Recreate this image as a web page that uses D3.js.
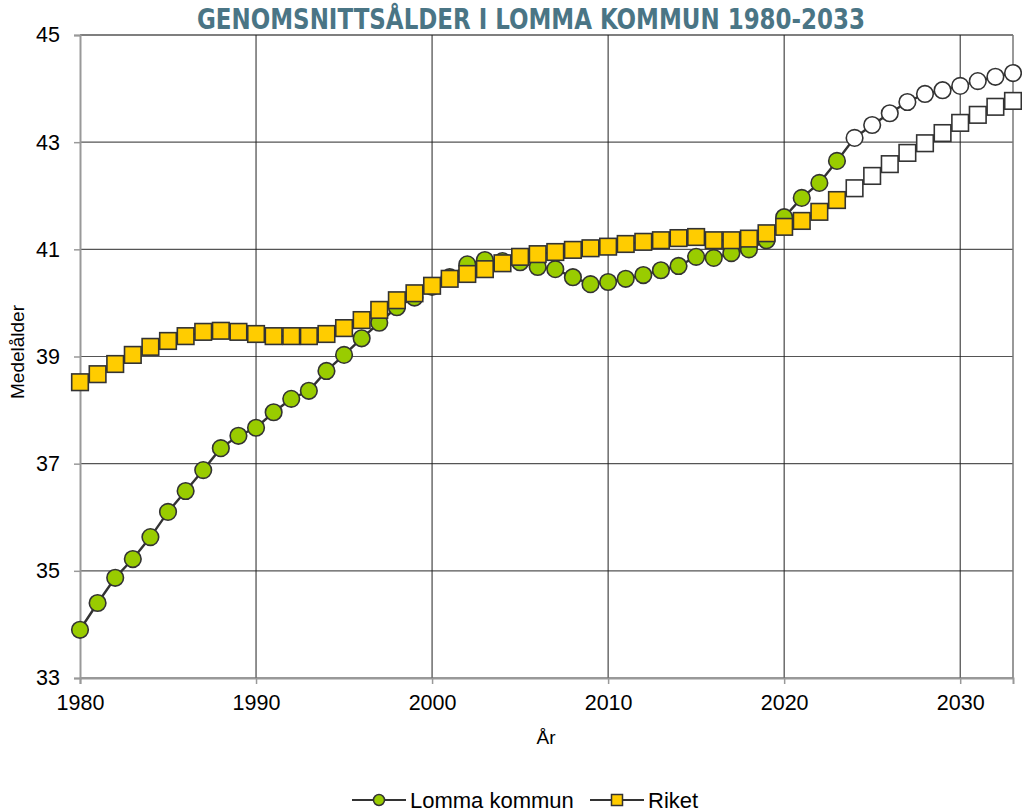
<!DOCTYPE html>
<html>
<head>
<meta charset="utf-8">
<script src="https://cdn.jsdelivr.net/npm/d3@7"></script>
<style>
  body { margin: 0; background: #fff; }
  svg { display: block; font-family: "Liberation Sans", Arial, sans-serif; }
</style>
</head>
<body>
<svg id="chart" width="1022" height="811"></svg>
<script>
// data
const years = d3.range(1980, 2034);
const forecastFrom = 2024; // prognos from this year on (open markers)
const lomma = [
  33.90, 34.40, 34.87, 35.22, 35.63, 36.10, 36.49, 36.88, 37.29, 37.52,
  37.67, 37.96, 38.21, 38.36, 38.73, 39.03, 39.34, 39.63, 39.92, 40.10,
  40.30, 40.48, 40.72, 40.80, 40.78, 40.76, 40.67, 40.63, 40.48, 40.35,
  40.39, 40.45, 40.52, 40.61, 40.69, 40.86, 40.84, 40.93, 41.00, 41.17,
  41.60, 41.96, 42.24, 42.65, 43.08, 43.32, 43.54, 43.75, 43.90, 43.97,
  44.05, 44.14, 44.22, 44.29
];
const riket = [
  38.52, 38.67, 38.86, 39.03, 39.18, 39.29, 39.38, 39.46, 39.48, 39.46,
  39.42, 39.38, 39.38, 39.38, 39.42, 39.53, 39.68, 39.87, 40.05, 40.18,
  40.32, 40.45, 40.54, 40.63, 40.74, 40.86, 40.91, 40.95, 40.99, 41.02,
  41.05, 41.10, 41.14, 41.17, 41.21, 41.23, 41.17, 41.17, 41.20, 41.30,
  41.42, 41.53, 41.70, 41.92, 42.14, 42.37, 42.59, 42.80, 42.98, 43.17,
  43.36, 43.51, 43.66, 43.77
];
const yTicks = [33, 35, 37, 39, 41, 43, 45];
const xTicks = [1980, 1990, 2000, 2010, 2020, 2030];
const seriesNames = ["Lomma kommun", "Riket"];

// layout
const svg = d3.select("#chart");
const mLeft = 80, mRight = 1013, mTop = 35, mBottom = 678;

const x = d3.scaleLinear().domain([1980, 2033]).range([mLeft, mRight]);
const y = d3.scaleLinear().domain([33, 45]).range([mBottom, mTop]);

// title
svg.append("text")
  .attr("x", 531).attr("y", 29)
  .attr("text-anchor", "middle")
  .attr("textLength", 668).attr("lengthAdjust", "spacingAndGlyphs")
  .style("font-family", "'DejaVu Sans Condensed', 'DejaVu Sans', sans-serif")
  .style("font-weight", "bold")
  .style("font-size", "29px")
  .style("fill", "#4a7585")
  .text("GENOMSNITTSÅLDER I LOMMA KOMMUN 1980-2033");

// grid
const grid = svg.append("g");
grid.selectAll("line.h").data(yTicks).enter().append("line")
  .attr("x1", mLeft).attr("x2", mRight)
  .attr("y1", d => y(d)).attr("y2", d => y(d))
  .attr("stroke", d => d === 45 ? "#000" : (d === 33 ? "#999" : "#555"))
  .attr("stroke-width", d => d === 33 ? 2 : 1.2);
grid.selectAll("line.v").data(xTicks.filter(d => d > 1980)).enter().append("line")
  .attr("x1", d => x(d)).attr("x2", d => x(d))
  .attr("y1", mTop).attr("y2", mBottom)
  .attr("stroke", "#222").attr("stroke-width", 1);
// right border
grid.append("line")
  .attr("x1", mRight).attr("x2", mRight).attr("y1", mTop).attr("y2", mBottom)
  .attr("stroke", "#777").attr("stroke-width", 1.5);

// axes
const yAxis = svg.append("g")
  .attr("transform", "translate(" + mLeft + ",0)")
  .call(d3.axisLeft(y).tickValues(yTicks).tickSize(6).tickPadding(14));
const xAxis = svg.append("g")
  .attr("transform", "translate(0," + mBottom + ")")
  .call(d3.axisBottom(x).tickValues(xTicks).tickSize(6).tickFormat(d3.format("d")).tickPadding(11));
[yAxis, xAxis].forEach(a => {
  a.select(".domain").attr("stroke", "#999").attr("stroke-width", 2);
  a.selectAll(".tick line").attr("stroke", "#999").attr("stroke-width", 1.5);
  a.selectAll(".tick text")
    .style("font-size", "21.5px")
    .style("font-family", "'Liberation Sans', Arial, sans-serif")
    .style("fill", "#000");
});

// axis titles
svg.append("text")
  .attr("x", 546).attr("y", 744)
  .attr("text-anchor", "middle")
  .style("font-size", "19px")
  .text("År");
svg.append("text")
  .attr("transform", "translate(24,352) rotate(-90)")
  .attr("text-anchor", "middle")
  .style("font-size", "19px")
  .text("Medelålder");

// lines
const line = d3.line()
  .x((d, i) => x(years[i]))
  .y(d => y(d));

const series = [
  { name: seriesNames[0], values: lomma, color: "#99cc00", shape: "circle" },
  { name: seriesNames[1], values: riket, color: "#ffcc00", shape: "square" }
];

series.forEach(s => {
  const g = svg.append("g");
  g.append("path")
    .attr("d", line(s.values))
    .attr("fill", "none")
    .attr("stroke", "#333")
    .attr("stroke-width", 2.4);
  const pts = g.selectAll(".pt").data(s.values).enter();
  if (s.shape === "circle") {
    pts.append("circle")
      .attr("cx", (d, i) => x(years[i]))
      .attr("cy", d => y(d))
      .attr("r", 8.3)
      .attr("fill", (d, i) => years[i] >= forecastFrom ? "#fff" : s.color)
      .attr("stroke", "#333").attr("stroke-width", 1.6);
  } else {
    pts.append("rect")
      .attr("x", (d, i) => x(years[i]) - 8.3)
      .attr("y", d => y(d) - 8.3)
      .attr("width", 16.6).attr("height", 16.6)
      .attr("fill", (d, i) => years[i] >= forecastFrom ? "#fff" : s.color)
      .attr("stroke", "#333").attr("stroke-width", 1.6);
  }
});

// legend
const legend = svg.append("g").attr("transform", "translate(0,800)");
const legendX = [352, 590];
series.forEach((s, i) => {
  const lg = legend.append("g").attr("transform", "translate(" + legendX[i] + ",0)");
  lg.append("line")
    .attr("x1", 0).attr("x2", 54).attr("y1", 0).attr("y2", 0)
    .attr("stroke", "#333").attr("stroke-width", 2);
  if (s.shape === "circle") {
    lg.append("circle").attr("cx", 27).attr("cy", 0).attr("r", 5.5)
      .attr("fill", s.color).attr("stroke", "#333").attr("stroke-width", 1.5);
  } else {
    lg.append("rect").attr("x", 21.5).attr("y", -5.5).attr("width", 11).attr("height", 11)
      .attr("fill", s.color).attr("stroke", "#333").attr("stroke-width", 1.5);
  }
  lg.append("text")
    .attr("x", 58).attr("y", 7.5)
    .style("font-size", "22px")
    .text(s.name);
});
</script>
</body>
</html>
